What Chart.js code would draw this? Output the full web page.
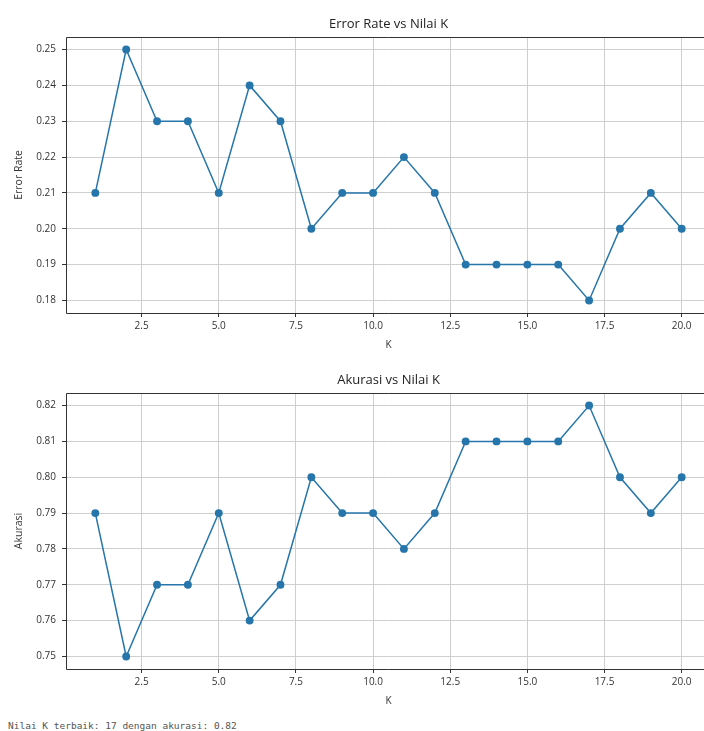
<!DOCTYPE html>
<html>
<head>
<meta charset="utf-8">
<script src="https://cdn.jsdelivr.net/npm/chart.js@4.4.1/dist/chart.umd.min.js"></script>
<style>
  html, body { margin: 0; padding: 0; background: #fff; overflow: hidden; width: 704px; height: 731px; }
  #wrap { position: absolute; left: 0; top: 0; width: 704px; height: 731px; overflow: hidden; }
  canvas { position: absolute; left: 0; }
  #errChart { top: 0; }
  #accChart { top: 356px; }
  #footer {
    position: absolute; left: 8px; top: 720px;
    font-family: "DejaVu Sans Mono", monospace; font-size: 9.5px; color: #555;
    white-space: pre;
  }
</style>
</head>
<body>
<div id="wrap">
<canvas id="errChart" width="720" height="356"></canvas>
<canvas id="accChart" width="720" height="356"></canvas>
<div id="footer">Nilai K terbaik: 17 dengan akurasi: 0.82</div>
</div>

<script>
// values
const kValues = [1, 2, 3, 4, 5, 6, 7, 8, 9, 10, 11, 12, 13, 14, 15, 16, 17, 18, 19, 20];
const errorRates = [0.21, 0.25, 0.23, 0.23, 0.21, 0.24, 0.23, 0.20, 0.21, 0.21,
                    0.22, 0.21, 0.19, 0.19, 0.19, 0.19, 0.18, 0.20, 0.21, 0.20];
const accuracies = [0.79, 0.75, 0.77, 0.77, 0.79, 0.76, 0.77, 0.80, 0.79, 0.79,
                    0.78, 0.79, 0.81, 0.81, 0.81, 0.81, 0.82, 0.80, 0.79, 0.80];
const xTicks = [2.5, 5.0, 7.5, 10.0, 12.5, 15.0, 17.5, 20.0];
const errTicks = [0.18, 0.19, 0.20, 0.21, 0.22, 0.23, 0.24, 0.25];
const accTicks = [0.75, 0.76, 0.77, 0.78, 0.79, 0.80, 0.81, 0.82];

const lineColor = '#2676ab';
const gridColor = '#cfcfcf';
const font = 'Open Sans';

// frame (matplotlib spines) and subplot title
// the right spine sits past the window edge in the reference, so it is left out
const framePlugin = {
    id: 'frame',
    afterDraw(chart, args, opts) {
        const { ctx, chartArea: a } = chart;
        const l = Math.round(a.left) + 0.5, t = Math.round(a.top) + 0.5;
        const r = Math.round(a.right), b = Math.round(a.bottom) + 0.5;
        ctx.save();
        ctx.strokeStyle = '#333';
        ctx.lineWidth = 1;
        ctx.beginPath();
        ctx.moveTo(r, t); ctx.lineTo(l, t); ctx.lineTo(l, b); ctx.lineTo(r, b);
        ctx.stroke();
        ctx.fillStyle = '#222';
        ctx.font = '13px "' + font + '"';
        ctx.textAlign = 'center';
        ctx.textBaseline = 'middle';
        ctx.fillText(opts.text, (a.left + a.right) / 2, a.top - 13);
        ctx.restore();
    }
};

function makeChart(canvasId, title, yLabel, values, yTicks, yMin, yMax) {
    const points = kValues.map((k, i) => ({ x: k, y: values[i] }));
    return new Chart(document.getElementById(canvasId), {
        type: 'line',
        data: {
            datasets: [{
                data: points,
                borderColor: lineColor,
                backgroundColor: lineColor,
                borderWidth: 1.5,
                pointRadius: 3.2,
                pointHoverRadius: 3.2,
                tension: 0
            }]
        },
        options: {
            responsive: false,
            animation: false,
            devicePixelRatio: 1,
            layout: { padding: { top: 37, right: 9, bottom: 3, left: 0 } },
            plugins: {
                legend: { display: false },
                tooltip: { enabled: false },
                frame: { text: title }
            },
            scales: {
                x: {
                    type: 'linear',
                    min: 0.05,
                    max: 20.95,
                    afterBuildTicks: s => { s.ticks = xTicks.map(v => ({ value: v })); },
                    afterFit: s => { s.height = 40; },
                    grid: { color: gridColor, tickColor: '#333', tickLength: 4 },
                    border: { display: false },
                    ticks: {
                        padding: 3,
                        maxRotation: 0,
                        color: '#333',
                        font: { family: font, size: 10 },
                        callback: v => v.toFixed(1)
                    },
                    title: {
                        display: true,
                        text: 'K',
                        color: '#333',
                        font: { family: font, size: 10 },
                        padding: { top: 0, bottom: 2 }
                    }
                },
                y: {
                    min: yMin,
                    max: yMax,
                    afterBuildTicks: s => { s.ticks = yTicks.map(v => ({ value: v })); },
                    afterFit: s => { s.width = 66; },
                    grid: { color: gridColor, tickColor: '#333', tickLength: 4 },
                    border: { display: false },
                    ticks: {
                        padding: 6,
                        color: '#333',
                        font: { family: font, size: 10 },
                        callback: v => v.toFixed(2)
                    },
                    title: {
                        display: true,
                        text: yLabel,
                        color: '#333',
                        font: { family: font, size: 10.5 },
                        padding: { top: 13, bottom: 0 }
                    }
                }
            }
        },
        plugins: [framePlugin]
    });
}

makeChart('errChart', 'Error Rate vs Nilai K', 'Error Rate', errorRates, errTicks, 0.1765, 0.2535);
makeChart('accChart', 'Akurasi vs Nilai K', 'Akurasi', accuracies, accTicks, 0.7465, 0.8235);
</script>
</body>
</html>
